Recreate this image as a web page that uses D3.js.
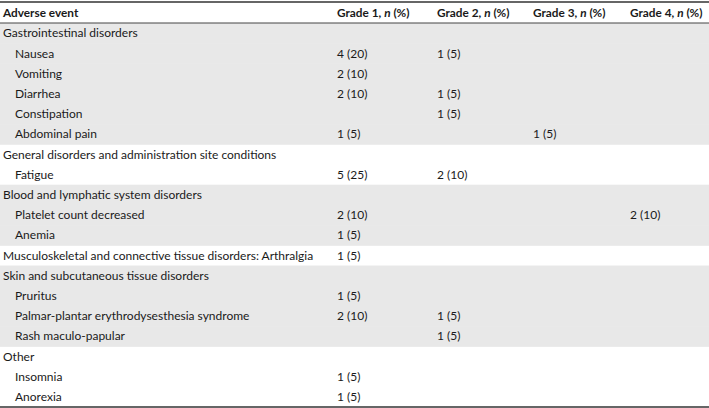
<!DOCTYPE html>
<html>
<head>
<meta charset="utf-8">
<script src="https://cdn.jsdelivr.net/npm/d3@7"></script>
<style>
  body { margin: 0; background: #fff; }
  text { font-family: Lato, "Open Sans", sans-serif; fill: #1a1a1a; }
</style>
</head>
<body>
<div id="wrapper"></div>
<script>
// table content
const columns = ["Adverse event", "Grade 1", "Grade 2", "Grade 3", "Grade 4"];
const rowLabels = [
  "Gastrointestinal disorders", "Nausea", "Vomiting", "Diarrhea", "Constipation", "Abdominal pain",
  "General disorders and administration site conditions", "Fatigue",
  "Blood and lymphatic system disorders", "Platelet count decreased", "Anemia",
  "Musculoskeletal and connective tissue disorders: Arthralgia",
  "Skin and subcutaneous tissue disorders", "Pruritus", "Palmar-plantar erythrodysesthesia syndrome", "Rash maculo-papular",
  "Other", "Insomnia", "Anorexia"
];
const rowLevel = [0,1,1,1,1,1, 0,1, 0,1,1, 0, 0,1,1,1, 0,1,1];
const rowGroup = [0,0,0,0,0,0, 1,1, 2,2,2, 3, 4,4,4,4, 5,5,5];
const grade1 = ["", "4 (20)", "2 (10)", "2 (10)", "", "1 (5)", "", "5 (25)", "", "2 (10)", "1 (5)", "1 (5)", "", "1 (5)", "2 (10)", "", "", "1 (5)", "1 (5)"];
const grade2 = ["", "1 (5)", "", "1 (5)", "1 (5)", "", "", "2 (10)", "", "", "", "", "", "", "1 (5)", "1 (5)", "", "", ""];
const grade3 = ["", "", "", "", "", "1 (5)", "", "", "", "", "", "", "", "", "", "", "", "", ""];
const grade4 = ["", "", "", "", "", "", "", "", "", "2 (10)", "", "", "", "", "", "", "", "", ""];

const dimension = {width: 709, height: 408, top: 2, headerH: 21, bottom: 407};

const svg = d3.select("#wrapper").append("svg")
    .attr("width", dimension.width)
    .attr("height", dimension.height);

const bodyTop = dimension.top + dimension.headerH;

const yScale = d3.scaleBand()
    .domain(d3.range(rowLabels.length))
    .range([bodyTop, dimension.bottom]);

const xScale = d3.scaleOrdinal()
    .domain(columns)
    .range([3, 337, 437, 533, 630]);

// shaded group bands
svg.append("g").selectAll("rect")
    .data(d3.range(rowLabels.length).filter(i => rowGroup[i] % 2 == 0))
    .join("rect")
    .attr("x", 0)
    .attr("y", i => yScale(i))
    .attr("width", dimension.width)
    .attr("height", yScale.bandwidth() + 0.5)
    .attr("fill", "#e8e8e8");

// header
const header = svg.append("g");
header.selectAll("text")
    .data(columns)
    .join("text")
    .attr("x", d => xScale(d))
    .attr("y", dimension.top + dimension.headerH / 2)
    .attr("dy", "0.35em")
    .style("font-size", "11.8px")
    .style("font-weight", "bold")
    .each(function(d) {
        const t = d3.select(this);
        if (d == "Adverse event") { t.text(d); return; }
        t.append("tspan").text(d + ", ");
        t.append("tspan").style("font-style", "italic").text("n");
        t.append("tspan").text(" (%)");
    });

// row labels
svg.append("g").selectAll("text")
    .data(rowLabels)
    .join("text")
    .attr("x", (d, i) => xScale("Adverse event") + rowLevel[i] * 12)
    .attr("y", (d, i) => yScale(i) + yScale.bandwidth() / 2)
    .attr("dy", "0.35em")
    .style("font-size", "12px")
    .text(d => d);

// grade cells
const grades = [grade1, grade2, grade3, grade4];
grades.forEach((vals, g) => {
    svg.append("g").selectAll("text")
        .data(vals)
        .join("text")
        .attr("x", xScale(columns[g + 1]))
        .attr("y", (d, i) => yScale(i) + yScale.bandwidth() / 2)
        .attr("dy", "0.35em")
        .style("font-size", "12px")
        .text(d => d);
});

// rules
svg.append("line").attr("x1", 0).attr("x2", dimension.width)
    .attr("y1", dimension.top).attr("y2", dimension.top)
    .attr("stroke", "#333").attr("stroke-width", 1.5);
svg.append("line").attr("x1", 0).attr("x2", dimension.width)
    .attr("y1", bodyTop).attr("y2", bodyTop)
    .attr("stroke", "#444").attr("stroke-width", 1);
svg.append("line").attr("x1", 0).attr("x2", dimension.width)
    .attr("y1", dimension.bottom).attr("y2", dimension.bottom)
    .attr("stroke", "#333").attr("stroke-width", 1.5);
</script>
</body>
</html>
